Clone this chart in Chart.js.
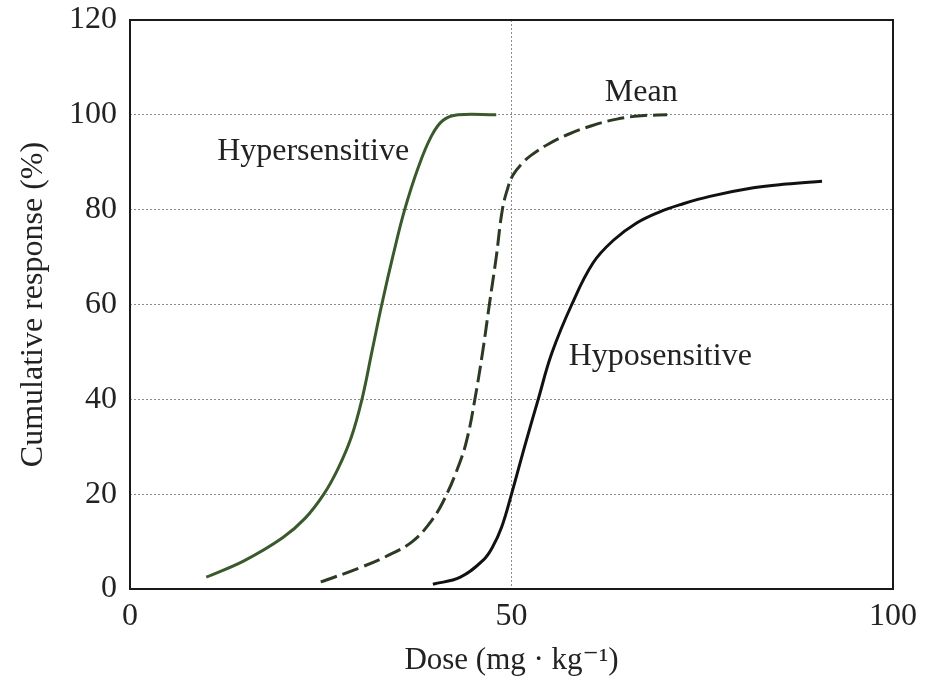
<!DOCTYPE html>
<html>
<head>
<meta charset="utf-8">
<script src="https://cdn.jsdelivr.net/npm/chart.js@4.4.0/dist/chart.umd.min.js"></script>
<style>
  html, body { margin: 0; padding: 0; background: #fff; }
  #wrap { width: 927px; height: 684px; }
</style>
</head>
<body>
<div id="wrap"><canvas id="doseChart" width="927" height="684"></canvas></div>
<script>
// dose (mg/kg) vs cumulative response (%)
const hyperDose = [10, 15, 20, 23, 25.4, 27.3, 29, 30.4, 31.7, 33, 34.5, 36, 37.8, 39.5, 41, 43, 48];
const hyperResp = [2.5, 6, 10.8, 15, 20, 25.5, 32, 40, 50, 60, 70.5, 80, 89, 95.5, 98.8, 100, 100];

const meanDose = [25, 30, 34.5, 37, 39, 41, 43.3, 44.3, 45.2, 46.2, 47.1, 48, 48.8, 49.5, 50.2, 51.3, 52.6, 54.8, 57.3, 60.5, 63.8, 67, 70.4];
const meanResp = [1.5, 4.4, 7.6, 10, 13.3, 18.3, 27, 32.5, 40, 49.8, 60, 70, 80, 84.5, 87.3, 89.6, 91.5, 93.8, 95.8, 97.7, 99.1, 99.8, 100];

const hypoDose = [39.7, 43.3, 46.3, 47.5, 48.7, 50, 51.8, 53.5, 55.3, 57.9, 60.7, 63.4, 66.4, 69.5, 72, 76, 81.7, 86, 90.7];
const hypoResp = [1, 2.5, 6.1, 8.8, 13, 20, 30.5, 40, 49.8, 60, 68.8, 73.6, 77.2, 79.6, 81, 82.8, 84.6, 85.4, 86];

const yTicks = [0, 20, 40, 60, 80, 100, 120];
const xTicks = [0, 50, 100];

// curve labels: [text, x, y]
const curveLabels = [
  ["Hypersensitive", 24, 92.2],
  ["Mean", 67, 104.6],
  ["Hyposensitive", 69.5, 49]
];

const serif = "'Liberation Serif', 'DejaVu Serif', serif";

function toPoints(xs, ys) {
  return xs.map((x, i) => ({ x: x, y: ys[i] }));
}

// box round the plot area + curve labels
const framePlugin = {
  id: "frame",
  afterDraw(chart) {
    const { ctx, chartArea: a, scales } = chart;
    ctx.save();
    ctx.strokeStyle = "#1a1a1a";
    ctx.lineWidth = 2;
    ctx.strokeRect(a.left, a.top, a.right - a.left, a.bottom - a.top);
    ctx.fillStyle = "#222";
    ctx.font = "32px " + serif;
    ctx.textAlign = "center";
    ctx.textBaseline = "middle";
    curveLabels.forEach(l => {
      ctx.fillText(l[0], scales.x.getPixelForValue(l[1]), scales.y.getPixelForValue(l[2]));
    });
    ctx.restore();
  }
};

const dotted = "#8c8c8c";

new Chart(document.getElementById("doseChart"), {
  type: "scatter",
  data: {
    datasets: [
      {
        label: "Hypersensitive",
        data: toPoints(hyperDose, hyperResp),
        borderColor: "#3b5a2c",
        borderWidth: 3
      },
      {
        label: "Mean",
        data: toPoints(meanDose, meanResp),
        borderColor: "#2c3a24",
        borderWidth: 3,
        borderDash: [17, 6]
      },
      {
        label: "Hyposensitive",
        data: toPoints(hypoDose, hypoResp),
        borderColor: "#111",
        borderWidth: 3
      }
    ].map(d => Object.assign(d, {
      showLine: true,
      pointRadius: 0,
      tension: 0.4,
      fill: false
    }))
  },
  options: {
    responsive: false,
    animation: false,
    layout: { padding: { top: 20, right: 34, left: 0, bottom: 0 } },
    plugins: { legend: { display: false }, tooltip: { enabled: false } },
    scales: {
      x: {
        type: "linear",
        min: 0,
        max: 100,
        afterBuildTicks(s) { s.ticks = xTicks.map(v => ({ value: v })); },
        afterFit(s) { s.height = 95; s.paddingLeft = 0; s.paddingRight = 0; },
        grid: {
          drawTicks: false,
          lineWidth: 1,
          color: c => (c.tick && c.tick.value === 50 ? dotted : "transparent")
        },
        border: { display: false, dash: [2, 2] },
        ticks: { padding: 8, color: "#222", font: { family: serif, size: 32 } },
        title: {
          display: true,
          text: "Dose (mg \u00b7 kg\u207b\u00b9)",
          color: "#222",
          font: { family: serif, size: 31 },
          padding: { top: 0, bottom: 5 }
        }
      },
      y: {
        type: "linear",
        min: 0,
        max: 120,
        afterBuildTicks(s) { s.ticks = yTicks.map(v => ({ value: v })); },
        afterFit(s) { s.width = 130; s.paddingTop = 0; s.paddingBottom = 0; },
        grid: {
          drawTicks: false,
          lineWidth: 1,
          color: c => (c.tick && c.tick.value > 0 && c.tick.value < 120 ? dotted : "transparent")
        },
        border: { display: false, dash: [2, 2] },
        ticks: { padding: 13, color: "#222", font: { family: serif, size: 32 } },
        title: {
          display: true,
          text: "Cumulative response (%)",
          color: "#222",
          font: { family: serif, size: 32 },
          padding: { top: 14, bottom: 0 }
        }
      }
    }
  },
  plugins: [framePlugin]
});
</script>
</body>
</html>
